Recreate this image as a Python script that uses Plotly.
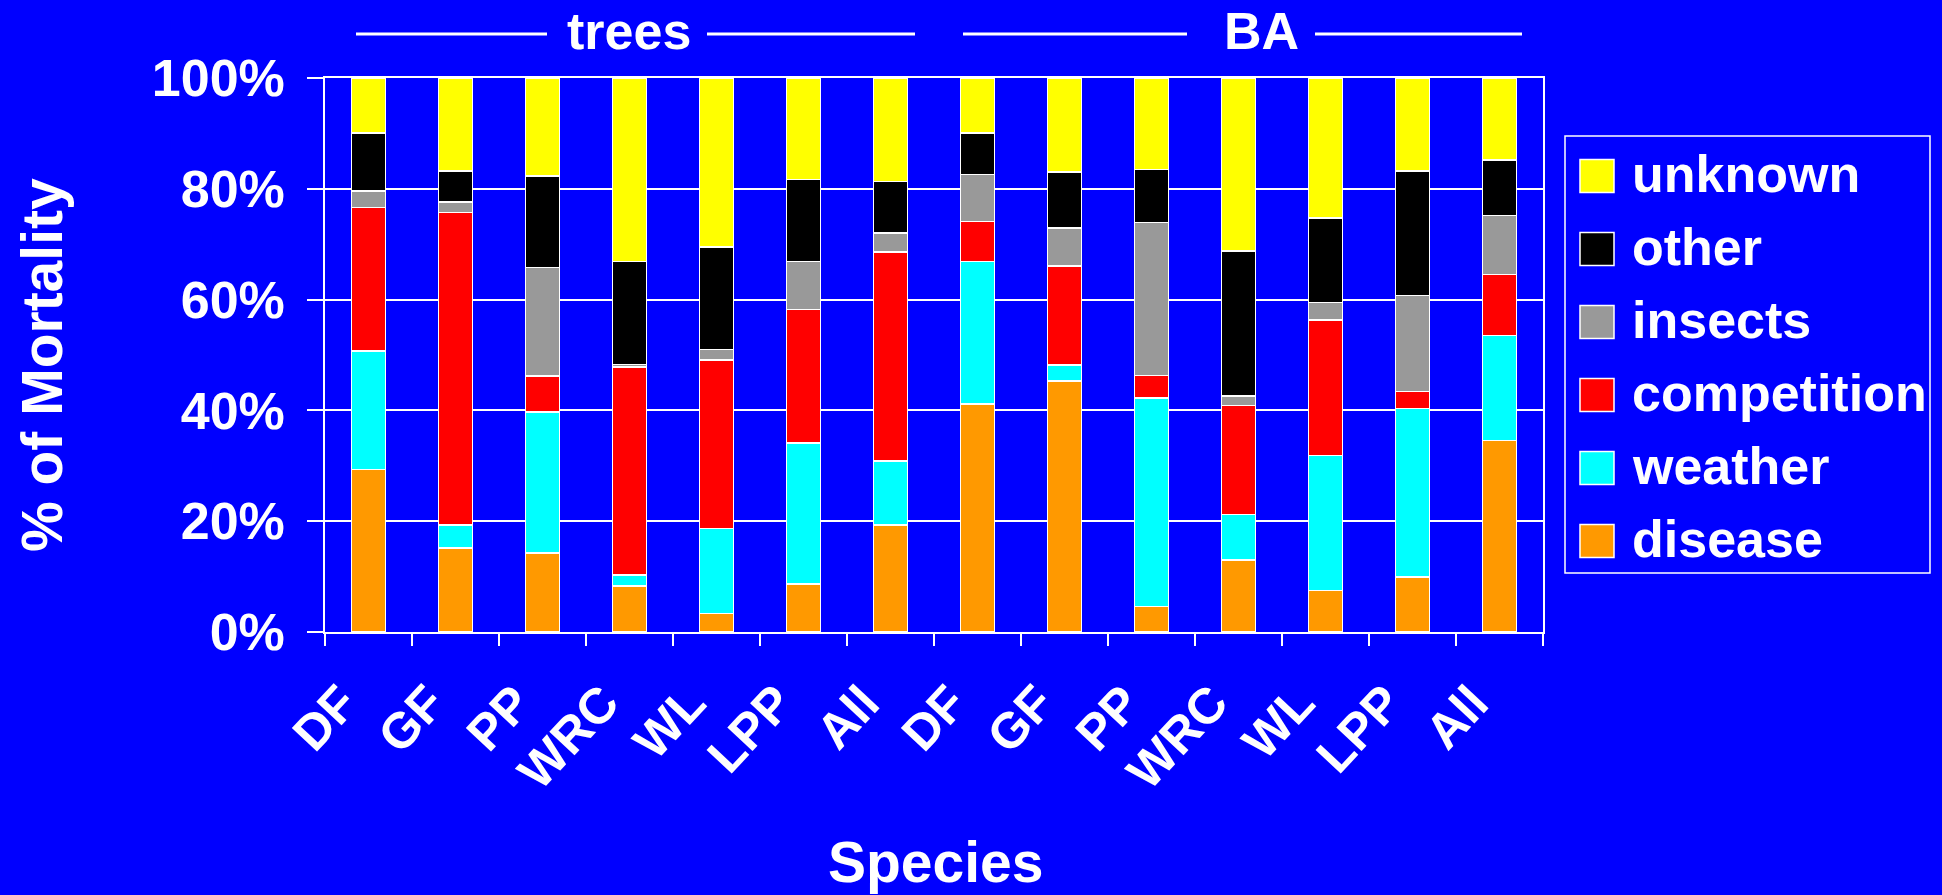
import plotly.graph_objects as go

# ---- data ----
groups = ["trees", "BA"]
species = ["DF", "GF", "PP", "WRC", "WL", "LPP", "All"]

disease = [29.3, 15.2, 14.3, 8.3, 3.3, 8.7, 19.3, 41.2, 45.3, 4.6, 13.0, 7.5, 9.9, 34.6]
weather = [21.4, 4.1, 25.4, 2.0, 15.4, 25.4, 11.6, 25.7, 2.9, 37.6, 8.2, 24.4, 30.4, 18.9]
competition = [25.9, 56.4, 6.5, 37.5, 30.4, 24.1, 37.7, 7.2, 17.9, 4.1, 19.7, 24.4, 3.1, 11.0]
insects = [3.0, 1.9, 19.6, 0.5, 1.9, 8.7, 3.4, 8.5, 6.8, 27.6, 1.7, 3.2, 17.3, 10.7]
other = [10.5, 5.6, 16.5, 18.6, 18.5, 14.8, 9.3, 7.5, 10.1, 9.6, 26.2, 15.2, 22.5, 10.0]
unknown = [9.9, 16.8, 17.7, 33.1, 30.5, 18.3, 18.7, 9.9, 17.0, 16.5, 31.2, 25.3, 16.8, 14.8]

series_names = ["disease", "weather", "competition", "insects", "other", "unknown"]
series_values = [disease, weather, competition, insects, other, unknown]
series_colors = ["#FF9900", "#00FFFF", "#FF0000", "#999999", "#000000", "#FFFF00"]

y_ticks = [0, 20, 40, 60, 80, 100]

# ---- layout geometry (pixels) ----
W, H = 1942, 895
PL, PR, PT, PB = 325, 1543, 78, 632
FONT = "Liberation Sans, Arial, sans-serif"
BG = "#0000FF"


def px_x(px):
    return (px - PL) / (PR - PL)


def px_y(py):
    return (PB - py) / (PB - PT)


x_ids = [f"{g} {s}" for g in groups for s in species]
x_text = [s for g in groups for s in species]
n_cat = len(x_ids)

fig = go.Figure()
for name, vals, col in zip(series_names, series_values, series_colors):
    fig.add_trace(go.Bar(
        x=x_ids, y=vals, name=name,
        marker=dict(color=col, line=dict(color="white", width=1.5)),
        showlegend=False,
    ))

fig.update_layout(
    width=W, height=H,
    barmode="stack", bargap=0.61,
    paper_bgcolor=BG, plot_bgcolor=BG,
    margin=dict(l=PL, r=W - PR, t=PT, b=H - PB),
    font=dict(family=FONT, color="white", size=50, weight="bold"),
    showlegend=False,
)

fig.update_xaxes(
    type="category", categoryorder="array", categoryarray=x_ids,
    range=[-0.5, n_cat - 0.5], autorange=False,
    tickmode="array", tickvals=x_ids, ticktext=x_text,
    tickson="boundaries", ticks="outside", ticklen=12, tickwidth=1.5, tickcolor="white",
    showticklabels=False,
    showline=True, linecolor="white", linewidth=1.5, mirror=True,
    showgrid=False,
)
fig.update_yaxes(
    range=[0, 100], tickmode="array", tickvals=y_ticks,
    ticktext=[f"{v}%" for v in y_ticks],
    ticks="outside", ticklen=16, tickwidth=1.5, tickcolor="white",
    tickfont=dict(size=52, family=FONT, color="white", weight="bold"),
    showline=True, linecolor="white", linewidth=1.5, mirror=True,
    showgrid=True, gridcolor="white", gridwidth=1.5,
    zeroline=False, ticklabelstandoff=12,
)

shapes = []
annotations = []

# category labels (rotated), placed slightly left of each category centre
for i, txt in enumerate(x_text):
    annotations.append(dict(text=txt, xref="x", yref="paper", x=i, y=px_y(672),
                            xanchor="right", yanchor="top", xshift=3,
                            textangle=-47, showarrow=False,
                            font=dict(size=50, family=FONT, color="white", weight="bold")))

# axis titles
annotations.append(dict(text="% of Mortality", xref="paper", yref="paper",
                        x=px_x(42), y=px_y(365), textangle=-90, showarrow=False,
                        xanchor="center", yanchor="middle",
                        font=dict(size=57, family=FONT, color="white", weight="bold")))
annotations.append(dict(text="Species", xref="paper", yref="paper",
                        x=px_x(935), y=px_y(862), showarrow=False,
                        xanchor="center", yanchor="middle",
                        font=dict(size=57, family=FONT, color="white", weight="bold")))

# group headers with side lines
headers = [("trees", 629, (356, 547), (707, 915)), ("BA", 1261, (963, 1187), (1315, 1522))]
for label, cx, l1, l2 in headers:
    annotations.append(dict(text=label, xref="paper", yref="paper",
                            x=px_x(cx), y=px_y(31), showarrow=False,
                            xanchor="center", yanchor="middle",
                            font=dict(size=52, family=FONT, color="white", weight="bold")))
    for a, b in (l1, l2):
        shapes.append(dict(type="line", xref="paper", yref="paper",
                           x0=px_x(a), x1=px_x(b), y0=px_y(34), y1=px_y(34),
                           line=dict(color="white", width=3)))

# legend box
shapes.append(dict(type="rect", xref="paper", yref="paper",
                   x0=px_x(1565), x1=px_x(1930), y0=px_y(136), y1=px_y(573),
                   line=dict(color="white", width=1.5), fillcolor=BG))
item_y = [176, 249, 322, 395, 468, 541]
for i, (name, col) in enumerate(zip(series_names[::-1], series_colors[::-1])):
    cy = item_y[i]
    shapes.append(dict(type="rect", xref="paper", yref="paper",
                       x0=px_x(1580), x1=px_x(1614), y0=px_y(cy - 16.5), y1=px_y(cy + 16.5),
                       line=dict(color="white", width=1.5), fillcolor=col))
    annotations.append(dict(text=name, xref="paper", yref="paper",
                            x=px_x(1630), y=px_y(cy - 2), showarrow=False,
                            xanchor="left", yanchor="middle",
                            font=dict(size=52, family=FONT, color="white", weight="bold")))

fig.update_layout(shapes=shapes, annotations=annotations)

fig.write_html("out.html")
